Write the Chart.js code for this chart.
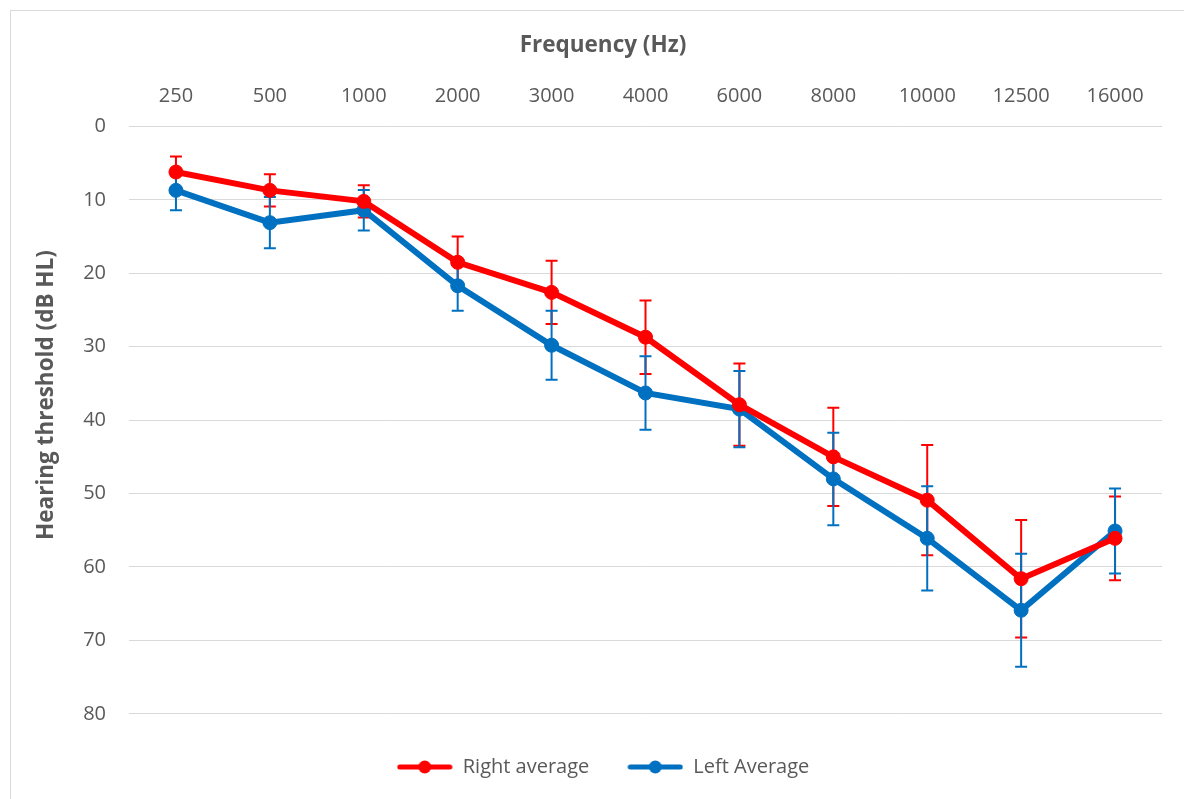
<!DOCTYPE html>
<html><head><meta charset="utf-8">
<script src="https://cdn.jsdelivr.net/npm/chart.js@4.4.0/dist/chart.umd.min.js"></script>
<style>
html,body{margin:0;padding:0;background:#fff;overflow:hidden}
#wrap{position:relative;width:1184px;height:799px}
#frame{position:absolute;left:10px;top:10px;width:1184px;height:799px;border:1px solid #d9d9d9;box-sizing:border-box;pointer-events:none}
canvas{position:absolute;left:0;top:0}
</style></head><body>
<div id="wrap"><canvas id="c" width="1184" height="799"></canvas><div id="frame"></div></div>
<script>
const frequencies = ['250','500','1000','2000','3000','4000','6000','8000','10000','12500','16000'];
const rightAverage = [6.2, 8.7, 10.2, 18.5, 22.6, 28.7, 37.9, 45.0, 50.9, 61.6, 56.1];
const rightError   = [2.1, 2.2, 2.2, 3.5, 4.3, 5.0, 5.6, 6.7, 7.5, 8.0, 5.7];
const leftAverage  = [8.7, 13.1, 11.4, 21.7, 29.8, 36.3, 38.5, 48.0, 56.1, 65.9, 55.1];
const leftError    = [2.7, 3.5, 2.75, 3.4, 4.7, 5.0, 5.2, 6.3, 7.1, 7.7, 5.8];
const yTicks = [0, 10, 20, 30, 40, 50, 60, 70, 80];
const xTitle = 'Frequency (Hz)';
const yTitle = 'Hearing threshold (dB HL)';

const RED = '#FF0000', BLUE = '#0070C0', TXT = '#595959', FONT = "'Open Sans', 'Liberation Sans', sans-serif";

function legendIcon(color) {
  const c = document.createElement('canvas');
  c.width = 56; c.height = 16;
  const g = c.getContext('2d');
  g.strokeStyle = color; g.lineWidth = 5; g.lineCap = 'round';
  g.beginPath(); g.moveTo(3, 8); g.lineTo(53, 8); g.stroke();
  g.fillStyle = color; g.beginPath(); g.arc(28, 8, 6.5, 0, Math.PI * 2); g.fill();
  return c;
}

const errorBars = {
  id: 'errorBars',
  beforeDatasetsDraw(chart) {
    const ctx = chart.ctx, ys = chart.scales.y;
    chart.data.datasets.forEach((ds, di) => {
      const meta = chart.getDatasetMeta(di);
      ctx.save();
      ctx.strokeStyle = ds.borderColor; ctx.lineWidth = 2;
      meta.data.forEach((pt, i) => {
        const v = ds.data[i], e = ds.errors[i];
        const y1 = ys.getPixelForValue(v - e), y2 = ys.getPixelForValue(v + e);
        const x = pt.x;
        ctx.beginPath();
        ctx.moveTo(x, y1); ctx.lineTo(x, y2);
        ctx.moveTo(x - 6, y1); ctx.lineTo(x + 6, y1);
        ctx.moveTo(x - 6, y2); ctx.lineTo(x + 6, y2);
        ctx.stroke();
      });
      ctx.restore();
    });
  }
};

const yAxisTitle = {
  id: 'yAxisTitle',
  afterDraw(chart) {
    const ctx = chart.ctx;
    ctx.save();
    ctx.translate(47, 395);
    ctx.rotate(-Math.PI / 2);
    ctx.fillStyle = TXT;
    ctx.font = "bold 22.5px " + FONT;
    ctx.textAlign = 'center'; ctx.textBaseline = 'middle';
    ctx.fillText(yTitle, 0, 0);
    ctx.restore();
  }
};

new Chart(document.getElementById('c'), {
  type: 'line',
  data: {
    labels: frequencies,
    datasets: [
      { label: 'Right average', data: rightAverage, errors: rightError, borderColor: RED, backgroundColor: RED,
        borderWidth: 6, pointRadius: 7, pointBorderWidth: 1, pointBackgroundColor: RED, pointBorderColor: RED,
        pointStyle: 'circle', tension: 0, fill: false },
      { label: 'Left Average', data: leftAverage, errors: leftError, borderColor: BLUE, backgroundColor: BLUE,
        borderWidth: 6, pointRadius: 7, pointBorderWidth: 1, pointBackgroundColor: BLUE, pointBorderColor: BLUE,
        pointStyle: 'circle', tension: 0, fill: false }
    ]
  },
  options: {
    responsive: false, animation: false, devicePixelRatio: 1,
    layout: { padding: { left: 44, right: 22, top: 20, bottom: 12 } },
    plugins: {
      tooltip: { enabled: false },
      title: {
        display: true, text: xTitle, color: TXT,
        font: { family: FONT, size: 22.5, weight: 'bold' },
        padding: { top: 12.5, bottom: 0 }
      },
      legend: {
        position: 'bottom',
        title: { display: true, text: '', font: { size: 1 }, padding: { top: 2, bottom: 2 } },
        labels: {
          usePointStyle: true, pointStyleWidth: 56, padding: 38,
          color: TXT, font: { family: FONT, size: 20 },
          generateLabels(chart) {
            return chart.data.datasets.map((ds, i) => ({
              text: ds.label, fillStyle: ds.borderColor, strokeStyle: ds.borderColor,
              pointStyle: legendIcon(ds.borderColor), lineWidth: 0, datasetIndex: i, hidden: false, fontColor: TXT
            }));
          }
        }
      }
    },
    scales: {
      x: {
        type: 'category', position: 'top', offset: true,
        grid: { display: false, drawTicks: false }, border: { display: false },
        ticks: { color: TXT, font: { family: FONT, size: 20 }, padding: 18, maxRotation: 0, autoSkip: false },
        afterFit(s) { s.height = 67; }
      },
      y: {
        reverse: true, min: yTicks[0], max: yTicks[yTicks.length - 1],
        afterBuildTicks(s) { s.ticks = yTicks.map(v => ({ value: v })); },
        grid: { color: '#d9d9d9', lineWidth: 1, drawTicks: false }, border: { display: false },
        ticks: { color: TXT, font: { family: FONT, size: 20 }, padding: 23 },
        afterFit(s) { s.width = 85; }
      }
    }
  },
  plugins: [errorBars, yAxisTitle]
});
</script>
</body></html>
